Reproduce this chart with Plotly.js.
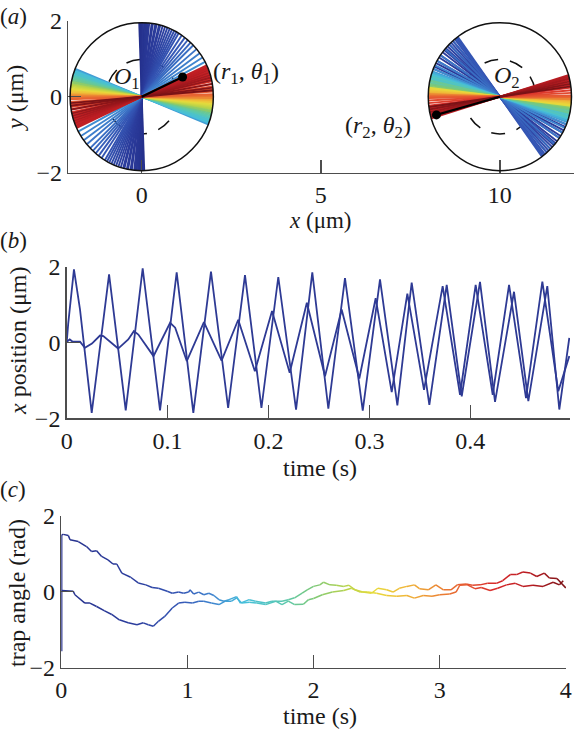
<!DOCTYPE html>
<html><head><meta charset="utf-8">
<script src="https://cdn.plot.ly/plotly-3.0.1.min.js"></script>
<style>html,body{margin:0;padding:0;background:#fff}#plot{width:574px;height:732px}</style>
</head><body><div id="plot"></div>
<script>
// ---------------- DATA ----------------
// Panel (a): trajectory fans in trap 1 (centre x=0) and trap 2 (centre x=10); angle in degrees, time in s (colour)
const fan1Time = [0.00,0.04,0.08,0.12,0.16,0.20,0.24,0.28,0.32,0.36,0.40,0.44,0.48,0.52,0.56,0.60,0.64,0.68,0.72,0.76,0.80,0.84,0.88,0.92,0.96,1.00,1.04,1.08,1.12,1.16,1.20,1.24,
  1.30,1.34,1.38,1.42,1.46,1.50,1.55,1.60,1.66,1.72,1.78,1.84,1.90,1.96,2.02,2.08,2.14,2.20,2.26,2.32,2.38,2.44,2.50,2.56,
  2.62,2.68,2.74,2.80,2.86,2.92,2.98,3.04,3.10,3.16,3.20,3.24,3.28,3.32,3.36,3.40,3.44,3.48,3.52,3.56,3.60,3.64,3.68,3.72,3.76,3.80,3.84,3.88,3.92,3.96,4.00];
const fan1Angle = [92,91,90,88,89,87,86,85,84,82,81,79,78,76,75,73,71,69,67,65,63,61,59,56,53,50,47,44,40,36,32,28,
  158,159,160,161,159.5,162,161,163,163.5,164,165,166,167,168,169,168.5,170,170.5,171,172,173,174,175,175.5,
  176,177,177.5,178,179,180,179,180.5,181,182,184,186,188,190,192,194,196,198,200,202,204,205,203,201,199,197,195,193,190,187,185];
const fan2Time = [0.00,0.04,0.08,0.12,0.16,0.20,0.24,0.28,0.32,0.36,0.40,0.44,0.48,0.52,0.56,0.60,0.64,0.68,0.72,0.76,0.80,0.84,0.88,0.92,0.96,1.00,1.04,1.08,1.12,1.16,1.20,1.24,
  1.30,1.34,1.38,1.42,1.46,1.50,1.55,1.60,1.65,1.70,1.76,1.82,1.88,1.94,2.00,2.06,2.12,2.18,2.24,2.30,2.36,
  2.44,2.52,2.60,2.68,2.76,2.84,2.92,3.00,3.08,3.16,3.22,3.28,3.34,3.40,3.46,3.52,3.58,3.64,3.70,3.76,3.82,3.88,3.94,4.00];
const fan2Angle = [180,178,176,173,170,167,164,161,158,156,153,151,148,146,143,141,139,137,135,133,131,129,127,126,128,131,135,140,146,151,155,158,
  160,162,161,163,164,162.5,165,166,164,167,168,169,167.5,170,171,172,173,174,175,176,177,
  173,174,175,176,177,178,179,178,179.5,180,181,183,185,187,189,191,193,195,197,196,194,192,190,188];
const trapCentreX = [0, 10];
const pointerX = [1.14, 8.23];
const pointerY = [0.52, -0.48];
const axisTicksA_x = [0, 5, 10];
const ticksY = [-2, 0, 2];

// Panel (b): x position (µm) of two beads vs time (s)
const bTimeA = [0,0.0015,0.0072,0.0132,0.0248,0.042,0.0585,0.0753,0.0925,0.109,0.1255,0.143,0.160,0.1767,0.193,0.2097,0.2273,0.2434,0.2593,0.2758,0.2934,0.3105,0.3277,0.3419,0.3594,0.3766,0.3915,0.4096,0.4245,0.4433,0.4575,0.4763,0.4882,0.4981];
const bPosA  = [0,0.5,1.93,0.87,-1.86,1.80,-1.79,1.96,-1.79,1.85,-1.86,1.87,-1.73,1.78,-1.73,1.73,-1.77,1.85,-1.75,1.70,-1.80,1.67,-1.66,1.58,-1.65,1.52,-1.42,1.60,-1.57,1.34,-1.55,1.49,-1.77,0.12];
const bTimeB = [0,0.003,0.006,0.0132,0.018,0.025,0.033,0.0363,0.051,0.061,0.0666,0.071,0.086,0.1025,0.1075,0.119,0.136,0.1535,0.170,0.1865,0.2035,0.221,0.238,0.256,0.2725,0.29,0.3062,0.3221,0.3376,0.3541,0.3726,0.3898,0.4053,0.4222,0.4384,0.4552,0.4714,0.4872,0.4981];
const bPosB  = [0.02,0.08,0.02,0.02,-0.14,-0.03,0.185,0.17,-0.16,0.08,0.30,0.21,-0.36,0.52,0.39,-0.49,0.54,-0.48,0.60,-0.76,0.83,-0.80,1.05,-0.89,0.87,-0.95,1.17,-1.31,1.29,-1.25,1.49,-1.38,1.52,-1.38,1.52,-1.47,1.61,-1.29,-0.36];
const ticksB_x = [0, 0.1, 0.2, 0.3, 0.4];

// Panel (c): trap angle (rad) vs time (s)
const cTimeU = [0.003,0.003,0.016,0.056,0.069,0.135,0.20,0.24,0.28,0.32,0.37,0.41,0.44,0.48,0.55,0.61,0.67,0.72,0.77,0.84,0.88,0.93,0.97,1.01,1.02,1.05,1.09,1.13,1.17,1.21,1.25,1.29,1.33,1.39,1.42,1.49,1.54,1.62,1.67,1.75,1.80,1.85,1.91,1.95,2.00,2.05,2.08,2.13,2.18,2.24,2.28,2.33,2.39,2.46,2.51,2.58,2.63,2.68,2.74,2.80,2.84,2.91,2.97,3.03,3.09,3.14,3.21,3.26,3.32,3.38,3.45,3.50,3.56,3.61,3.66,3.72,3.77,3.83,3.87,3.93,4.00];
const cAngleU = [-1.57,1.50,1.51,1.48,1.37,1.32,1.19,1.06,1.08,0.93,0.84,0.73,0.73,0.49,0.38,0.23,0.18,0.11,0.09,0.01,-0.04,-0.01,-0.04,-0.01,0.05,-0.06,-0.01,-0.08,-0.04,-0.10,-0.21,-0.25,-0.21,-0.13,-0.30,-0.21,-0.25,-0.30,-0.25,-0.25,-0.21,-0.16,-0.04,0.05,0.14,0.18,0.25,0.18,0.17,0.14,0.17,0.05,-0.01,-0.04,0.09,0.05,-0.01,0.09,0.14,0.18,0.08,0.05,0.18,0.05,0.05,0.18,0.20,0.17,0.18,0.22,0.22,0.29,0.45,0.45,0.52,0.49,0.40,0.49,0.36,0.35,0.10];
const cTimeL = [0.003,0.095,0.108,0.187,0.227,0.28,0.34,0.40,0.46,0.53,0.60,0.65,0.69,0.73,0.77,0.82,0.88,0.93,0.98,1.04,1.09,1.13,1.19,1.25,1.30,1.35,1.39,1.43,1.49,1.55,1.62,1.70,1.75,1.80,1.85,1.92,1.96,2.00,2.07,2.15,2.24,2.30,2.37,2.43,2.50,2.58,2.66,2.74,2.80,2.87,2.94,3.00,3.08,3.13,3.16,3.22,3.28,3.33,3.40,3.46,3.53,3.60,3.66,3.74,3.82,3.90,3.95,3.98];
const cAngleL = [0.03,0.01,-0.08,-0.30,-0.30,-0.39,-0.50,-0.60,-0.74,-0.82,-0.87,-0.82,-0.87,-0.91,-0.78,-0.65,-0.43,-0.30,-0.28,-0.30,-0.25,-0.25,-0.30,-0.34,-0.25,-0.25,-0.16,-0.30,-0.28,-0.30,-0.34,-0.25,-0.34,-0.25,-0.34,-0.33,-0.21,-0.18,-0.08,-0.01,0.03,0.09,-0.01,-0.01,-0.04,-0.10,-0.12,-0.10,-0.17,-0.10,-0.12,-0.08,-0.06,-0.01,0.17,0.18,0.08,0.11,0.03,0.09,0.18,0.22,0.14,0.17,0.14,0.25,0.18,0.29];
const ticksC_x = [0, 1, 2, 3, 4];
const T_MAX = 4;

// ---------------- STYLE ----------------
const W = 574, H = 732;
const FONT = 'Liberation Serif, Times New Roman, Times, serif';
const RX = 2.0, RY = 1.95;           // trap circle half-axes (data units)
const stops = [[0,'#25308c'],[0.15,'#2c3e9e'],[0.24,'#3558b6'],[0.3,'#3f84cf'],[0.36,'#45bedc'],[0.44,'#5ac8b0'],
  [0.5,'#7cc878'],[0.57,'#bcd448'],[0.62,'#e8dc3c'],[0.68,'#f0b838'],[0.74,'#ec8c34'],[0.8,'#e65a32'],
  [0.86,'#d8282a'],[0.93,'#b81c22'],[1.0,'#7a1216']];
function h2r(h){return [parseInt(h.slice(1,3),16),parseInt(h.slice(3,5),16),parseInt(h.slice(5,7),16)];}
function cmap(f){
  f = Math.max(0, Math.min(1, f));
  for (let i = 1; i < stops.length; i++) {
    if (f <= stops[i][0]) {
      const a = stops[i-1], b = stops[i], u = (f - a[0]) / (b[0] - a[0]);
      const ca = h2r(a[1]), cb = h2r(b[1]);
      return 'rgb(' + ca.map((v,k)=>Math.round(v + (cb[k]-v)*u)).join(',') + ')';
    }
  }
  return stops[stops.length-1][1];
}

const traces = [];
function addFan(cx, times, angles){
  for (let i = 0; i < times.length; i++) {
    const th = angles[i] * Math.PI / 180;
    const dx = RX * Math.cos(th), dy = RY * Math.sin(th);
    traces.push({type:'scatter', mode:'lines', x:[cx - dx, cx + dx], y:[-dy, dy], xaxis:'x', yaxis:'y',
      line:{color:cmap(times[i]/T_MAX), width:1.9}, hoverinfo:'skip', showlegend:false});
  }
}
addFan(trapCentreX[0], fan1Time, fan1Angle);
addFan(trapCentreX[1], fan2Time, fan2Angle);
for (let k = 0; k < 2; k++) {
  traces.push({type:'scatter', mode:'lines', x:[trapCentreX[k], pointerX[k]], y:[0, pointerY[k]], xaxis:'x', yaxis:'y',
    line:{color:'#000', width:2.2}, hoverinfo:'skip', showlegend:false});
}
traces.push({type:'scatter', mode:'markers', x:pointerX, y:pointerY, xaxis:'x', yaxis:'y',
  marker:{color:'#000', size:9}, hoverinfo:'skip', showlegend:false});

// panel b
const navy = '#2e3a94';
traces.push({type:'scatter', mode:'lines', x:bTimeA, y:bPosA, xaxis:'x2', yaxis:'y2', line:{color:navy, width:1.8}, showlegend:false});
traces.push({type:'scatter', mode:'lines', x:bTimeB, y:bPosB, xaxis:'x2', yaxis:'y2', line:{color:navy, width:1.8}, showlegend:false});

// panel c (colour by time)
function addColoured(ts, vs){
  for (let i = 0; i < ts.length - 1; i++) {
    const tm = (ts[i] + ts[i+1]) / 2;
    traces.push({type:'scatter', mode:'lines', x:[ts[i], ts[i+1]], y:[vs[i], vs[i+1]], xaxis:'x3', yaxis:'y3',
      line:{color:cmap(tm/T_MAX), width:1.5}, hoverinfo:'skip', showlegend:false});
  }
}
addColoured(cTimeU, cAngleU);
addColoured(cTimeL, cAngleL);

const axBase = {showline:true, linecolor:'#4d4d4d', linewidth:1.5, ticks:'inside', ticklen:13, tickwidth:1.5,
  tickcolor:'#4d4d4d', showgrid:false, zeroline:false, fixedrange:true, tickfont:{family:FONT, size:24, color:'#1a1a1a'}};
function ann(text, px, py, extra){
  return Object.assign({xref:'paper', yref:'paper', x:px/W, y:1-py/H, text:text, showarrow:false,
    xanchor:'center', yanchor:'middle', font:{family:FONT, size:24, color:'#1a1a1a'}}, extra||{});
}
const annotations = [
  ann('(<i>a</i>)', 13, 16, {font:{family:FONT, size:23, color:'#1a1a1a'}}),
  ann('(<i>b</i>)', 13, 241, {font:{family:FONT, size:23, color:'#1a1a1a'}}),
  ann('(<i>c</i>)', 13, 489, {font:{family:FONT, size:23, color:'#1a1a1a'}}),
  ann('<i>x</i> (μm)', 320, 221, {font:{family:FONT, size:23, color:'#1a1a1a'}}),
  ann('<i>y</i> (μm)', 15, 98, {textangle:-90}),
  ann('time (s)', 320, 468),
  ann('<i>x</i> position (μm)', 18, 341, {textangle:-90}),
  ann('time (s)', 320, 716),
  ann('trap angle (rad)', 17, 593, {textangle:-90}),
  {xref:'x', yref:'y', x:-0.42, y:0.48, text:'<i>O</i><sub>1</sub>', showarrow:false, font:{family:FONT, size:24, color:'#1a1a1a'}},
  {xref:'x', yref:'y', x:10.21, y:0.52, text:'<i>O</i><sub>2</sub>', showarrow:false, font:{family:FONT, size:24, color:'#1a1a1a'}},
  {xref:'x', yref:'y', x:2.92, y:0.62, text:'(<i>r</i><sub>1</sub>, <i>θ</i><sub>1</sub>)', showarrow:false, font:{family:FONT, size:24, color:'#1a1a1a'}},
  {xref:'x', yref:'y', x:6.59, y:-0.80, text:'(<i>r</i><sub>2</sub>, <i>θ</i><sub>2</sub>)', showarrow:false, font:{family:FONT, size:24, color:'#1a1a1a'}}
];
const shapes = [];
for (const cx of trapCentreX) {
  shapes.push({type:'circle', xref:'x', yref:'y', x0:cx-1.0, x1:cx+1.0, y0:-0.98, y1:0.98, layer:'below',
    line:{color:'#111', width:1.5, dash:'14px,12px'}});
  shapes.push({type:'circle', xref:'x', yref:'y', x0:cx-RX, x1:cx+RX, y0:-RY, y1:RY, layer:'above',
    line:{color:'#111', width:1.5}});
}

const layout = {
  width:W, height:H, margin:{l:0, r:0, t:0, b:0}, paper_bgcolor:'#fff', plot_bgcolor:'rgba(0,0,0,0)',
  showlegend:false, font:{family:FONT},
  xaxis: Object.assign({}, axBase, {domain:[68.3/W, 1], range:[-2.05, 12.07], tickvals:axisTicksA_x, anchor:'y'}),
  yaxis: Object.assign({}, axBase, {domain:[1-172.7/H, 1-20.7/H], range:[-2.002, 2.002], tickvals:ticksY, anchor:'x'}),
  xaxis2: Object.assign({}, axBase, {domain:[66.7/W, 570/W], range:[0, 0.4988], tickvals:ticksB_x, anchor:'y2'}),
  yaxis2: Object.assign({}, axBase, {domain:[1-418.3/H, 1-266.7/H], range:[-2.002, 2.002], tickvals:ticksY, anchor:'x2'}),
  xaxis3: Object.assign({}, axBase, {domain:[61.3/W, 566/W], range:[0, 4.002], tickvals:ticksC_x, anchor:'y3'}),
  yaxis3: Object.assign({}, axBase, {domain:[1-667.7/H, 1-515.7/H], range:[-2.002, 2.002], tickvals:ticksY, anchor:'x3'}),
  annotations:annotations, shapes:shapes
};
Plotly.newPlot('plot', traces, layout, {staticPlot:true, displayModeBar:false});
</script></body></html>
